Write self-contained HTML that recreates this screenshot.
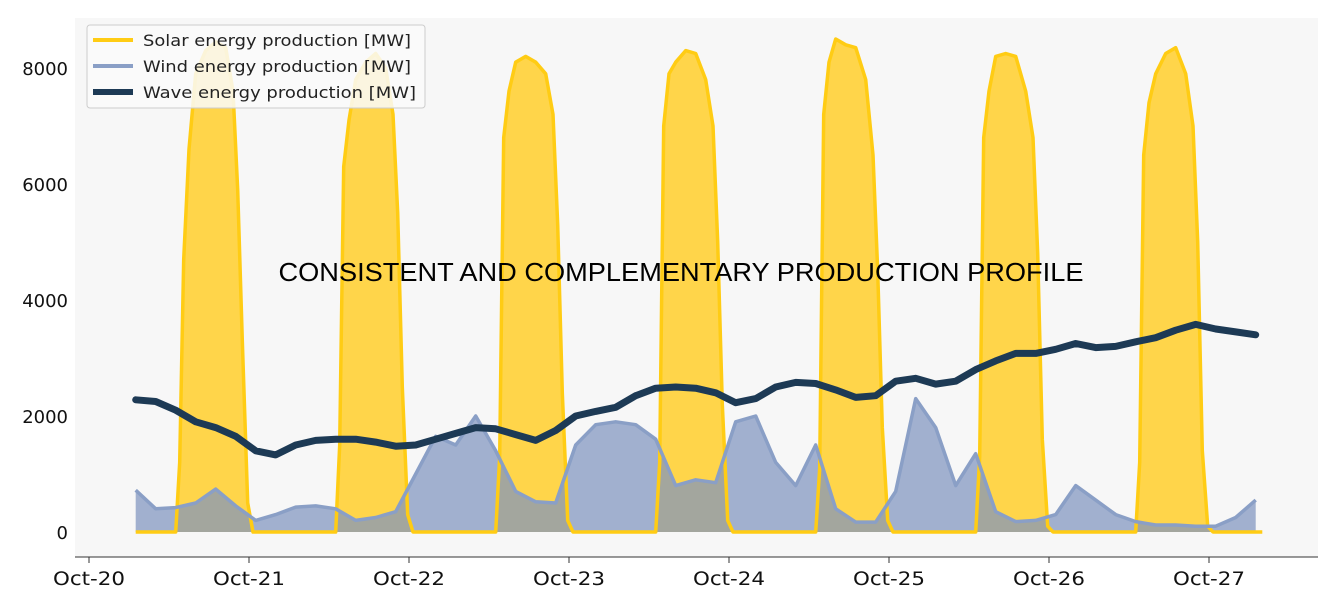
<!DOCTYPE html>
<html><head><meta charset="utf-8"><style>
html,body{margin:0;padding:0;background:#fff;}
svg{display:block;font-family:"DejaVu Sans","Liberation Sans",sans-serif;}
</style></head><body>
<svg id="chart" width="1332" height="616">
<rect x="75" y="18" width="1243" height="539" fill="#f7f7f7"/>
<g id="marks"></g>
<line x1="75" y1="557" x2="1318" y2="557" stroke="#333" stroke-width="1"/>
<g id="xticks"></g><g id="yticks"></g>
<text x="681" y="281" font-size="26" textLength="805" lengthAdjust="spacingAndGlyphs" text-anchor="middle" fill="#000" style="font-family:'Liberation Sans',sans-serif">CONSISTENT AND COMPLEMENTARY PRODUCTION PROFILE</text>
<g>
<rect x="87" y="25" width="338" height="83" rx="3" fill="#fafafa" fill-opacity="0.85" stroke="#ccc"/>
<g><line x1="93" y1="40" x2="133" y2="40" stroke="#ffcc14" stroke-width="4"/><text x="143" y="46" font-size="16" textLength="268" lengthAdjust="spacingAndGlyphs" fill="#222">Solar energy production [MW]</text></g>
<g><line x1="93" y1="66" x2="133" y2="66" stroke="#8a9fc6" stroke-width="4"/><text x="143" y="72" font-size="16" textLength="268" lengthAdjust="spacingAndGlyphs" fill="#222">Wind energy production [MW]</text></g>
<g><line x1="93" y1="92" x2="133" y2="92" stroke="#1d3a55" stroke-width="6"/><text x="143" y="98" font-size="16" textLength="273" lengthAdjust="spacingAndGlyphs" fill="#222">Wave energy production [MW]</text></g>
</g>
</svg>
<script>
const xTickLabels = ["Oct-20","Oct-21","Oct-22","Oct-23","Oct-24","Oct-25","Oct-26","Oct-27"];
const yTickValues = [0,2000,4000,6000,8000];
const seriesStartHour = 7;
const seriesStepHours = 3;
const windValues = [720,400,420,500,740,450,200,300,430,450,400,200,250,350,1000,1650,1500,2000,1400,700,520,500,1500,1850,1900,1850,1600,800,900,850,1900,2000,1200,800,1500,400,170,170,700,2300,1800,800,1350,350,180,200,300,800,550,300,180,120,120,100,100,250,550];
const waveValues = [2280,2250,2100,1900,1800,1650,1400,1330,1500,1580,1600,1600,1550,1480,1500,1600,1700,1800,1780,1680,1580,1750,2000,2080,2150,2350,2480,2500,2480,2400,2230,2300,2500,2580,2560,2450,2320,2350,2600,2650,2550,2600,2800,2950,3080,3080,3150,3250,3180,3200,3280,3350,3480,3580,3500,3450,3400];
const solarDayOffsets = [13,13.6,14.2,15,16,17.5,19,20.5,21.6,22.3,23,23.8,24.6];
const solarDay0 = [0,1200,4700,6600,7900,8300,8450,8350,7600,5900,3300,500,0];
const solarDay1 = [0,1500,6300,7100,7800,8100,8250,8000,7200,5500,2500,300,0];
const solarDay2 = [0,1300,6800,7600,8100,8200,8100,7900,7200,5300,2400,200,0];
const solarDay3 = [0,1200,7000,7900,8100,8300,8250,7800,7000,5000,2200,200,0];
const solarDay4 = [0,1100,7200,8100,8500,8400,8350,7800,6500,4500,1800,200,0];
const solarDay5 = [0,1300,6800,7600,8200,8250,8200,7600,6800,4800,1600,100,0];
const solarDay6 = [0,1200,6500,7400,7900,8250,8350,7900,7000,5000,1400,100,0];
const solarDays = [solarDay0,solarDay1,solarDay2,solarDay3,solarDay4,solarDay5,solarDay6];
const endHour = 176;

const NS="http://www.w3.org/2000/svg";
const xScale = h => 89 + h*160/24;
const yScale = v => 532 - v*116/2000;
const marks=document.getElementById('marks');
function mk(tag,attrs,parent){const e=document.createElementNS(NS,tag);for(const k in attrs)e.setAttribute(k,attrs[k]);(parent||marks).appendChild(e);return e;}

const solarPts=[[seriesStartHour,0]];
solarDays.forEach((vals,d)=>{vals.forEach((v,i)=>{solarPts.push([d*24+solarDayOffsets[i],v]);});});
solarPts.push([endHour,0]);
const windPts=windValues.map((v,i)=>[seriesStartHour+i*seriesStepHours,v]);
const wavePts=waveValues.map((v,i)=>[seriesStartHour+i*seriesStepHours,v]);
const line=pts=>pts.map((p,i)=>(i?'L':'M')+xScale(p[0]).toFixed(1)+','+yScale(p[1]).toFixed(1)).join('');
const area=pts=>line(pts)+'L'+xScale(pts[pts.length-1][0]).toFixed(1)+','+yScale(0)+'L'+xScale(pts[0][0]).toFixed(1)+','+yScale(0)+'Z';

const sa=mk('path',{d:area(solarPts),fill:'#ffd54a',stroke:'none'});


const wa=mk('path',{d:area(windPts),fill:'#7f94bf','fill-opacity':'0.72',stroke:'none'});


const sl=mk('path',{d:line(solarPts),fill:'none',stroke:'#ffcc14','stroke-width':'3.5','stroke-linejoin':'round'});


const wl=mk('path',{d:line(windPts),fill:'none',stroke:'#8a9fc6','stroke-width':'3.5','stroke-linejoin':'round'});


const vl=mk('path',{d:line(wavePts),fill:'none',stroke:'#1d3a55','stroke-width':'7','stroke-linejoin':'round','stroke-linecap':'round'});



const xt=document.getElementById('xticks');
xTickLabels.forEach((lab,i)=>{const x=xScale(i*24);
 const t=mk('line',{x1:x,y1:557,x2:x,y2:563,stroke:'#333'},xt);
 
 
 const tx=mk('text',{x:x,y:585,'font-size':'19',textLength:'72',lengthAdjust:'spacingAndGlyphs','text-anchor':'middle',fill:'#111'},xt);tx.textContent=lab;
 
 
});
const yt=document.getElementById('yticks');
yTickValues.forEach(v=>{const y=yScale(v);
 const tx=mk('text',{x:68,y:y+7,'font-size':'18','text-anchor':'end',fill:'#111'},yt);tx.textContent=v;
 
 
});
</script>
</body></html>
